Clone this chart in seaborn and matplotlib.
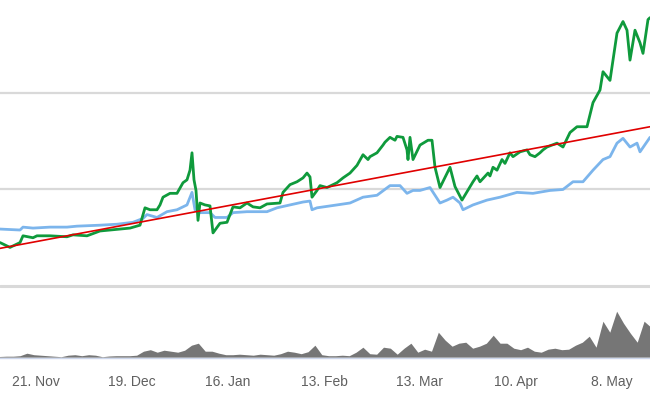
import pandas as pd
import matplotlib.pyplot as plt
import seaborn as sns

# price pane (index units), green = asset, blue = benchmark
green_dates = [
    "2016-11-10 12:00", "2016-11-13 10:00", "2016-11-16 08:00", "2016-11-17 05:00",
    "2016-11-20 03:00", "2016-11-21 07:00", "2016-11-25 02:00", "2016-11-30 01:00",
    "2016-12-01 19:00", "2016-12-05 21:00", "2016-12-09 16:00", "2016-12-12 14:00",
    "2016-12-18 10:00", "2016-12-21 08:00", "2016-12-22 19:00", "2016-12-24 06:00",
    "2016-12-26 07:00", "2016-12-27 04:00", "2016-12-28 01:00", "2016-12-30 02:00",
    "2017-01-01 03:00", "2017-01-02 21:00", "2017-01-04 01:00", "2017-01-04 22:00",
    "2017-01-05 12:00", "2017-01-06 02:00", "2017-01-06 16:00", "2017-01-07 06:00",
    "2017-01-07 20:00", "2017-01-09 07:00", "2017-01-10 18:00", "2017-01-11 15:00",
    "2017-01-13 16:00", "2017-01-15 17:00", "2017-01-17 11:00", "2017-01-19 12:00",
    "2017-01-21 13:00", "2017-01-23 07:00", "2017-01-25 08:00", "2017-01-27 09:00",
    "2017-01-31 04:00", "2017-02-01 01:00", "2017-02-03 02:00", "2017-02-05 03:00",
    "2017-02-06 21:00", "2017-02-08 01:00", "2017-02-08 22:00", "2017-02-09 12:00",
    "2017-02-10 23:00", "2017-02-11 20:00", "2017-02-13 21:00", "2017-02-16 19:00",
    "2017-02-18 13:00", "2017-02-20 14:00", "2017-02-22 15:00", "2017-02-24 09:00",
    "2017-02-25 20:00", "2017-02-26 10:00", "2017-02-28 11:00", "2017-03-02 05:00",
    "2017-03-02 19:00", "2017-03-04 06:00", "2017-03-05 17:00", "2017-03-06 07:00",
    "2017-03-08 01:00", "2017-03-09 05:00", "2017-03-09 12:00", "2017-03-10 02:00",
    "2017-03-10 23:00", "2017-03-13 00:00", "2017-03-15 08:00", "2017-03-16 12:00",
    "2017-03-17 09:00", "2017-03-18 20:00", "2017-03-21 18:00", "2017-03-23 05:00",
    "2017-03-25 06:00", "2017-03-28 11:00", "2017-03-29 15:00", "2017-03-30 12:00",
    "2017-04-01 20:00", "2017-04-02 10:00", "2017-04-03 07:00", "2017-04-04 11:00",
    "2017-04-05 22:00", "2017-04-06 19:00", "2017-04-08 06:00", "2017-04-09 03:00",
    "2017-04-11 04:00", "2017-04-13 05:00", "2017-04-14 02:00", "2017-04-15 13:00",
    "2017-04-17 00:00", "2017-04-17 21:00", "2017-04-19 01:00", "2017-04-21 23:00",
    "2017-04-23 17:00", "2017-04-25 18:00", "2017-04-27 19:00", "2017-04-30 17:00",
    "2017-05-02 11:00", "2017-05-04 12:00", "2017-05-05 09:00", "2017-05-07 10:00",
    "2017-05-08 07:00", "2017-05-09 11:00", "2017-05-11 05:00", "2017-05-12 09:00",
    "2017-05-13 06:00", "2017-05-14 17:00", "2017-05-16 04:00", "2017-05-17 01:00",
    "2017-05-18 12:00", "2017-05-19 02:00",
]
green_vals = [
    45, 40, 45, 52, 50, 52, 52, 51, 53, 52, 57, 58,
    60, 63, 81, 79, 79, 84, 92, 96, 96, 107, 110, 120,
    138, 110, 99, 68, 86, 84, 83, 55, 65, 66, 82, 81,
    86, 82, 81, 85, 86, 97, 105, 108, 112, 117, 113, 92,
    99, 104, 102, 107, 112, 117, 125, 136, 131, 134, 138, 146,
    149, 154, 151, 155, 154, 141, 131, 154, 131, 146, 151, 151,
    123, 102, 123, 103, 89, 108, 114, 108, 117, 114, 123, 120,
    131, 127, 138, 134, 139, 141, 136, 134, 138, 141, 144, 148,
    144, 159, 165, 165, 190, 203, 222, 213, 234, 262, 274, 265,
    234, 265, 252, 241, 276, 278,
]

blue_dates = [
    "2016-11-10 12:00", "2016-11-16 08:00", "2016-11-17 05:00", "2016-11-20 03:00",
    "2016-11-25 02:00", "2016-11-30 01:00", "2016-12-02 23:00", "2016-12-09 16:00",
    "2016-12-14 15:00", "2016-12-19 07:00", "2016-12-22 05:00", "2016-12-23 09:00",
    "2016-12-26 07:00", "2016-12-29 05:00", "2017-01-01 03:00", "2017-01-04 01:00",
    "2017-01-05 12:00", "2017-01-06 09:00", "2017-01-07 20:00", "2017-01-10 18:00",
    "2017-01-12 05:00", "2017-01-15 17:00", "2017-01-17 11:00", "2017-01-21 13:00",
    "2017-01-27 09:00", "2017-01-30 07:00", "2017-02-03 02:00", "2017-02-06 21:00",
    "2017-02-08 22:00", "2017-02-09 12:00", "2017-02-10 23:00", "2017-02-16 19:00",
    "2017-02-20 14:00", "2017-02-24 09:00", "2017-02-28 11:00", "2017-03-04 06:00",
    "2017-03-07 04:00", "2017-03-09 05:00", "2017-03-10 23:00", "2017-03-13 00:00",
    "2017-03-15 22:00", "2017-03-18 20:00", "2017-03-20 21:00", "2017-03-22 15:00",
    "2017-03-24 16:00", "2017-03-25 13:00", "2017-03-28 11:00", "2017-04-01 13:00",
    "2017-04-05 08:00", "2017-04-10 07:00", "2017-04-14 23:00", "2017-04-19 22:00",
    "2017-04-23 17:00", "2017-04-26 15:00", "2017-04-29 13:00", "2017-05-02 11:00",
    "2017-05-05 09:00", "2017-05-07 10:00", "2017-05-09 11:00", "2017-05-11 05:00",
    "2017-05-13 06:00", "2017-05-15 07:00", "2017-05-16 04:00", "2017-05-19 02:00",
]
blue_vals = [
    59, 58, 61, 60, 61, 61, 62, 63, 64, 66, 70, 74,
    71, 77, 79, 84, 97, 79, 76, 76, 71, 71, 76, 77,
    77, 81, 84, 87, 88, 79, 81, 84, 86, 92, 94, 104,
    104, 96, 99, 99, 102, 86, 89, 92, 86, 79, 84, 89,
    92, 97, 96, 99, 100, 108, 108, 120, 131, 134, 148, 153,
    144, 148, 139, 154,
]

trend_dates = ["2016-11-10 12:00", "2017-05-19 02:00"]
trend_vals = [39, 165]

# volume, one reading every second day from 2016-11-10 12:00
volume_start = "2016-11-10 12:00"
volume_vals = [
    0.7, 1, 1, 1.5, 4, 2.5, 2, 1.5, 1, 0.5, 2, 2.5,
    1.5, 2.5, 2, 0.5, 1.2, 1.5, 1.5, 1.5, 2, 6, 7.5, 5,
    7, 6, 5, 7, 12, 14, 6, 6, 4, 2.5, 2.5, 3,
    2.5, 2, 3, 2.5, 2, 3.5, 6, 5, 3.5, 5.5, 12, 2.5,
    1.5, 1.5, 2, 1.5, 5, 10, 3.5, 3, 10, 9, 3, 9,
    14, 5, 8, 6, 25, 17, 11, 14, 15, 9, 11, 14,
    22, 14, 14, 9, 7.5, 10, 6, 5, 8, 9, 7.5, 8,
    12, 15, 21, 10, 36, 25, 46, 34, 24, 15, 36, 30,
]

tick_dates = ["2016-11-21", "2016-12-19", "2017-01-16", "2017-02-13",
              "2017-03-13", "2017-04-10", "2017-05-08"]
tick_labels = ["21. Nov", "19. Dec", "16. Jan", "13. Feb", "13. Mar", "10. Apr", "8. May"]

green = pd.DataFrame({"date": pd.to_datetime(green_dates), "value": green_vals})
blue = pd.DataFrame({"date": pd.to_datetime(blue_dates), "value": blue_vals})
trend = pd.DataFrame({"date": pd.to_datetime(trend_dates), "value": trend_vals})
volume = pd.DataFrame({
    "date": pd.date_range(volume_start, periods=len(volume_vals), freq="2D"),
    "value": volume_vals,
})

sns.set_style("white")
plt.rcParams["font.family"] = ["Liberation Sans Narrow", "Liberation Sans", "DejaVu Sans"]

fig = plt.figure(figsize=(6.5, 4), dpi=100)
ax = fig.add_axes([0, 0.25, 1, 0.75])
ax_vol = fig.add_axes([0, 0.10575, 1, 0.16925], sharex=ax)

# price pane
for y in [0, 100, 200]:
    ax.axhline(y, color="#d9d9d9", lw=1.6 if y else 2.2, zorder=0)
sns.lineplot(data=blue, x="date", y="value", ax=ax, color="#7cb5ec", lw=2.0)
sns.lineplot(data=green, x="date", y="value", ax=ax, color="#0f9a3c", lw=2.0)
sns.lineplot(data=trend, x="date", y="value", ax=ax, color="#e00000", lw=1.2)
ax.set_ylim(-14.5, 296.3)
ax.set_xlim(pd.Timestamp("2016-11-10 12:00"), pd.Timestamp("2017-05-19 02:00"))
ax.axis("off")

# volume pane
ax_vol.fill_between(volume["date"], 0, volume["value"], color="#767676", lw=0)
ax_vol.set_ylim(0, 67.7)
for side in ["top", "left", "right"]:
    ax_vol.spines[side].set_visible(False)
ax_vol.spines["bottom"].set_color("#ccd6eb")
ax_vol.spines["bottom"].set_linewidth(1)
ax_vol.set_yticks([])
ax_vol.set_xticks(pd.to_datetime(tick_dates))
ax_vol.set_xticklabels(tick_labels)
ax_vol.tick_params(axis="x", length=7.5, width=1, color="#ccd6eb",
                   labelsize=10, labelcolor="#606060", pad=5)
ax_vol.set_xlabel("")
ax_vol.set_ylabel("")
ax_vol.patch.set_alpha(0)

fig.savefig("out.png", dpi=100)
plt.close(fig)
